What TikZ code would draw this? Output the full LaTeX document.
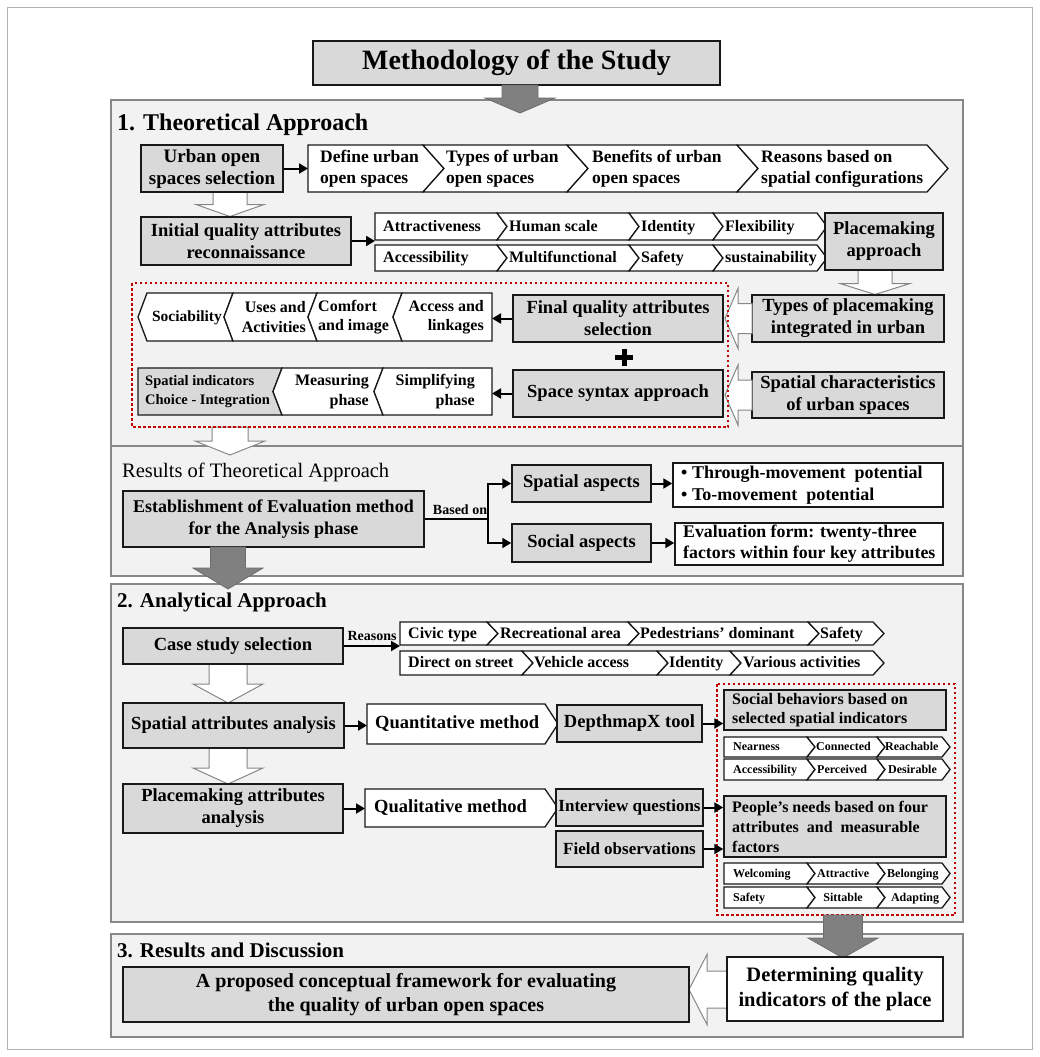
\documentclass[tikz,border=0pt]{standalone}
\usepackage{fontspec}
\setmainfont{Liberation Serif}
\usetikzlibrary{arrows.meta}
\definecolor{boxg}{RGB}{217,217,217}
\definecolor{panelg}{RGB}{242,242,242}
\definecolor{darkarr}{RGB}{128,128,128}
\definecolor{edgeg}{RGB}{135,135,135}
\definecolor{dred}{RGB}{192,0,0}
\newcommand{\fsz}[2]{\fontsize{#1}{#2}\selectfont}
% box node: [style]{name}{x1}{y1}{x2}{y2}{text}
\newcommand{\bx}[7][]{\node[gbox,#1,minimum width={#5-#3},minimum height={#6-#4}] (#2) at ({(#3+#5)/2},{(#4+#6)/2}) {#7};}
% chevron: [style]{L}{R}{T}{B}{right offset}{left offset}
\newcommand{\chev}[7][]{\filldraw[chv,#1] (#2,#4) -- (#3,#4) -- ({#3+(#6)},{(#4+#5)/2}) -- (#3,#5) -- (#2,#5) -- ({#2+(#7)},{(#4+#5)/2}) -- cycle;}
% down block arrow: style, xc, y0, ytip, shaft half, head half, head length
\newcommand{\barD}[7]{\filldraw[#1] ({#2-#5},#3) -- ({#2+#5},#3) -- ({#2+#5},{#4-#7}) -- ({#2+#6},{#4-#7}) -- (#2,#4) -- ({#2-#6},{#4-#7}) -- ({#2-#5},{#4-#7}) -- cycle;}
% left block arrow: style, yc, x0, xtip, shaft half, head half, head length
\newcommand{\barL}[7]{\filldraw[#1] (#3,{#2-#5}) -- ({#4+#7},{#2-#5}) -- ({#4+#7},{#2-#6}) -- (#4,#2) -- ({#4+#7},{#2+#6}) -- ({#4+#7},{#2+#5}) -- (#3,{#2+#5}) -- cycle;}
\begin{document}
\begin{tikzpicture}[x=1pt,y=-1pt,
  gbox/.style={draw=black!90, line width=1.5pt, fill=boxg, inner sep=0pt, align=center, font=\bfseries\fsz{18.5}{22}},
  wbox/.style={fill=white},
  txt/.style={inner sep=0pt, align=left},
  conn/.style={line width=2pt, draw=black, -{Triangle[length=9pt,width=10pt]}},
  chv/.style={draw=black!90, line width=1.3pt, fill=white, line join=miter},
  panel/.style={draw=edgeg, line width=1.2pt, fill=panelg},
  hollow/.style={draw=edgeg, fill=white, line width=1pt},
  dark/.style={draw=darkarr!85!black, fill=darkarr, line width=0.8pt},
  reddot/.style={draw=dred, line width=2.5pt, dash pattern=on 2.5pt off 2.5pt},
  mtext/.style={txt, anchor=west, font=\bfseries\fsz{17.5}{21}},
  ctext/.style={txt, anchor=west, font=\bfseries\fsz{16}{19}, text height=12pt, text depth=3pt},
  stext/.style={txt, anchor=west, font=\bfseries\fsz{12}{14}, text height=9pt, text depth=2pt},
  ltext/.style={txt, anchor=west, font=\bfseries\fsz{18.5}{22}, text height=13.5pt, text depth=4pt}
]
\useasboundingbox (0,0) rectangle (1040,1057);
\draw[black!30, line width=1pt] (7.5,7.5) rectangle (1032.5,1049.5);

% panels
\filldraw[panel] (111,100) rectangle (963,446);
\filldraw[panel] (111,446) rectangle (963,576);
\filldraw[panel] (111,584) rectangle (963,922);
\filldraw[panel] (111,934) rectangle (963,1037);

% title
\bx[font=\bfseries\fsz{28}{32}]{title}{313}{41}{720}{85}{Methodology of the Study}
\barD{dark}{520}{85}{113}{18}{35}{15}

% ===== Section 1 =====
\node[txt, anchor=west, font=\bfseries\fsz{24}{28}] (s1) at (117,125) {1. Theoretical Approach};

\barD{hollow}{230}{192}{216.5}{17}{34}{12}
\bx[font=\bfseries\fsz{19}{22}]{urban}{141}{145}{283}{192}{Urban open\\spaces selection}
\coordinate (defL) at (308,168.5);
\draw[conn] (urban.east) -- (defL);
\chev{308}{423}{145}{192}{21}{0}
\chev{423}{567}{145}{192}{21}{21}
\chev{567}{737}{145}{192}{21}{21}
\chev{737}{927}{145}{192}{21}{21}
\node[mtext] (t11) at (320,168.5) {Define urban\\open spaces};
\node[mtext] (t12) at (446,168.5) {Types of urban\\open spaces};
\node[mtext] (t13) at (592,168.5) {Benefits of urban\\open spaces};
\node[mtext] (t14) at (761,168.5) {Reasons based on\\spatial configurations};

\bx{initial}{141}{217}{351}{265}{Initial quality attributes\\reconnaissance}
\coordinate (attL) at (375,241);
\draw[conn] (initial.east) -- (attL);
\chev{375}{497}{213}{240}{10}{0}
\chev{497}{629}{213}{240}{10}{10}
\chev{629}{713}{213}{240}{10}{10}
\chev{713}{817}{213}{240}{10}{10}
\chev{375}{497}{245}{271}{10}{0}
\chev{497}{629}{245}{271}{10}{10}
\chev{629}{713}{245}{271}{10}{10}
\chev{713}{817}{245}{271}{10}{10}
\node[ctext] (a1) at (383,226.5) {Attractiveness};
\node[ctext] (a2) at (509,226.5) {Human scale};
\node[ctext] (a3) at (641,226.5) {Identity};
\node[ctext] (a4) at (725,226.5) {Flexibility};
\node[ctext] (b1) at (383,258) {Accessibility};
\node[ctext] (b2) at (509,258) {Multifunctional};
\node[ctext] (b3) at (641,258) {Safety};
\node[ctext] (b4) at (725,258) {sustainability};

\barD{hollow}{875}{270}{294.5}{17}{35}{11}
\bx{placem}{825}{213}{943}{270}{Placemaking\\approach}
\bx{types}{752}{295}{944}{342}{Types of placemaking\\integrated in urban}
\bx{spchar}{752}{372}{944}{418}{Spatial characteristics\\of urban spaces}

\barL{hollow}{318.5}{752}{725}{15}{30}{13}
\barL{hollow}{395}{752}{725}{15}{30}{13}
\barD{hollow}{230}{427}{455}{18}{35}{14}
\draw[reddot] (132,283) rectangle (728,427);

\bx{final}{513}{295}{723}{342}{Final quality attributes\\selection}
\bx{syntax}{513}{370}{723}{417}{Space syntax approach}
\fill (621.5,348.5) rectangle (626.5,366);
\fill (615,354.8) rectangle (633,359.8);

\chev{147}{233}{293}{341}{-9}{-9}
\chev{233}{317}{293}{341}{-9}{-9}
\chev{317}{402}{293}{341}{-9}{-9}
\chev{402}{492}{293}{341}{0}{-9}
\coordinate (accR) at (492,318.5);
\draw[conn] (final.west) -- (accR);
\node[ctext, anchor=center, font=\bfseries\fsz{15.5}{19.5}] (soc) at (187,317) {Sociability};
\node[txt, anchor=east, align=right, font=\bfseries\fsz{16}{19.5}] (uses) at (306,317) {Uses and\\Activities};
\node[txt, anchor=west, font=\bfseries\fsz{16}{19.5}] (comf) at (318,317) {Comfort\\and image};
\node[txt, anchor=east, align=right, font=\bfseries\fsz{16}{19.5}] (acc) at (484,317) {Access and\\linkages};

\chev[fill=boxg]{138}{282}{368}{415}{-9}{0}
\chev{282}{383}{368}{415}{-9}{-9}
\chev{383}{492}{368}{415}{0}{-9}
\coordinate (simR) at (492,393.5);
\draw[conn] (syntax.west) -- (simR);
\node[txt, anchor=west, font=\bfseries\fsz{14.5}{19}] (spind) at (145,391.5) {Spatial indicators\\Choice - Integration};
\node[txt, anchor=east, align=right, font=\bfseries\fsz{16}{19.5}] (meas) at (369,391.5) {Measuring\\phase};
\node[txt, anchor=east, align=right, font=\bfseries\fsz{16}{19.5}] (simp) at (475,391.5) {Simplifying\\phase};

% ===== Results of theoretical approach =====
\node[txt, anchor=west, font=\fsz{20.5}{24}] (res) at (122,472) {Results of Theoretical Approach};
\bx[font=\bfseries\fsz{18}{22}]{estab}{123}{491}{424}{547}{Establishment of Evaluation method\\for the Analysis phase}
\bx{spasp}{512}{465}{651}{502}{Spatial aspects}
\bx{soasp}{512}{524}{651}{562}{Social aspects}
\coordinate (split) at (488,519);
\draw[line width=2pt] (estab.east) -- (split);
\draw[conn] (split) |- (spasp.west);
\draw[conn] (split) |- (soasp.west);
\node[inner sep=0pt, font=\bfseries\fsz{14}{16}] (basedon) at (460,510) {Based on};
\bx[wbox]{bul}{673}{463}{943}{507}{}
\node[txt, anchor=west, font=\bfseries\fsz{18}{21.5}] (bultxt) at (681,485) {\textbullet\ Through-movement\ \ potential\\\textbullet\ To-movement\ \ potential};
\draw[conn] (spasp.east) -- (spasp.east -| bul.west);
\bx[wbox]{evalf}{675}{523}{943}{565}{}
\node[txt, anchor=west, font=\bfseries\fsz{17.8}{21}] (evaltxt) at (683,544) {Evaluation form: twenty-three\\factors within four key attributes};
\draw[conn] (soasp.east) -- (soasp.east -| evalf.west);
\barD{dark}{228}{547}{589}{17.5}{35}{21}

% ===== Section 2 =====
\node[txt, anchor=west, font=\bfseries\fsz{21}{25}] (s2) at (117,602) {2. Analytical Approach};
\barD{hollow}{228}{664}{703}{19}{35}{19}
\barD{hollow}{228}{748}{784}{19}{35}{16}
\bx{case}{123}{628}{343}{664}{Case study selection}
\bx{spattr}{123}{703}{344}{748}{Spatial attributes analysis}
\bx{plattr}{123}{784}{343}{833}{Placemaking attributes\\analysis}

\coordinate (civL) at (400,646);
\draw[conn] (case.east) -- (civL);
\node[inner sep=0pt, font=\bfseries\fsz{14}{16}] (reasons) at (372,636) {Reasons};
\chev{400}{487}{622}{645}{11}{0}
\chev{487}{628}{622}{645}{11}{11}
\chev{628}{808}{622}{645}{11}{11}
\chev{808}{873}{622}{645}{11}{11}
\chev{400}{522}{651}{675}{11}{0}
\chev{522}{657}{651}{675}{11}{11}
\chev{657}{730}{651}{675}{11}{11}
\chev{730}{873}{651}{675}{11}{11}
\node[ctext] (r1) at (408,633.5) {Civic type};
\node[ctext] (r2) at (500,633.5) {Recreational area};
\node[ctext] (r3) at (640,633.5) {Pedestrians’ dominant};
\node[ctext] (r4) at (820,633.5) {Safety};
\node[ctext] (r5) at (408,663) {Direct on street};
\node[ctext] (r6) at (534,663) {Vehicle access};
\node[ctext] (r7) at (669,663) {Identity};
\node[ctext] (r8) at (743,663) {Various activities};

\coordinate (quaL) at (367,725.5);
\draw[conn] (spattr.east) -- (quaL);
\chev{367}{545}{704}{744}{13}{0}
\node[ltext] (quant) at (375,724) {Quantitative method};
\bx{depth}{557}{705}{702}{742}{DepthmapX tool}

\draw[reddot] (717,684) rectangle (955,915);
\bx{socb}{724}{690}{946}{730}{}
\node[txt, anchor=west, font=\bfseries\fsz{16}{19.5}] (socbt) at (732,710) {Social behaviors based on\\selected spatial indicators};
\draw[conn] (depth.east) -- (depth.east -| socb.west);
\chev{724}{807}{737}{757}{8}{0}
\chev{807}{877}{737}{757}{8}{8}
\chev{877}{942}{737}{757}{8}{8}
\chev{724}{807}{759}{780}{8}{0}
\chev{807}{877}{759}{780}{8}{8}
\chev{877}{942}{759}{780}{8}{8}
\node[stext] (n1) at (733,747) {Nearness};
\node[stext] (n2) at (816,747) {Connected};
\node[stext] (n3) at (885,747) {Reachable};
\node[stext] (n4) at (733,769.5) {Accessibility};
\node[stext] (n5) at (817,769.5) {Perceived};
\node[stext] (n6) at (888,769.5) {Desirable};

\coordinate (qualL) at (365,808.5);
\draw[conn] (plattr.east) -- (qualL);
\chev{365}{545}{789}{827}{13}{0}
\node[ltext] (qual) at (374,808) {Qualitative method};
\bx[font=\bfseries\fsz{17}{20}]{interv}{556}{789}{703}{826}{Interview questions}
\bx[font=\bfseries\fsz{17}{20}]{field}{556}{831}{703}{867}{Field observations}
\bx{people}{724}{796}{946}{857}{}
\node[txt, anchor=west, font=\bfseries\fsz{16}{20}] (peoplet) at (732,826.5) {People’s needs based on four\\attributes\ \ and\ \ measurable\\factors};
\draw[conn] (interv.east) -- (interv.east -| people.west);
\draw[conn] (field.east) -- (field.east -| people.west);
\chev{724}{807}{863}{884}{8}{0}
\chev{807}{877}{863}{884}{8}{8}
\chev{877}{942}{863}{884}{8}{8}
\chev{724}{807}{887}{908}{8}{0}
\chev{807}{877}{887}{908}{8}{8}
\chev{877}{942}{887}{908}{8}{8}
\node[stext] (w1) at (733,873.5) {Welcoming};
\node[stext] (w2) at (817,873.5) {Attractive};
\node[stext] (w3) at (887,873.5) {Belonging};
\node[stext] (w4) at (733,897.5) {Safety};
\node[stext, anchor=center] (w5) at (843,897.5) {Sittable};
\node[stext, anchor=center] (w6) at (915,897.5) {Adapting};

\barD{dark}{843}{915}{958}{19.5}{35}{20}

% ===== Section 3 =====
\node[txt, anchor=west, font=\bfseries\fsz{21}{25}] (s3) at (117,950) {3. Results and Discussion};
\barL{hollow}{989.5}{727}{689}{18.5}{35}{18}
\bx[font=\bfseries\fsz{20}{24}]{prop}{123}{967}{689}{1022}{A proposed conceptual framework for evaluating\\the quality of urban open spaces}
\bx[wbox, font=\bfseries\fsz{20.5}{24.5}]{determ}{727}{957}{943}{1021}{Determining quality\\indicators of the place}
\end{tikzpicture}
\end{document}
